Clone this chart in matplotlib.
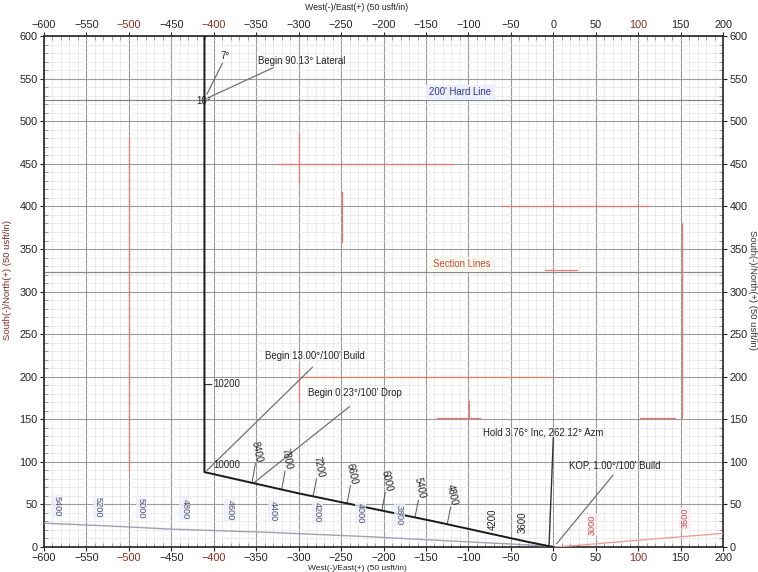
import matplotlib
matplotlib.use('Agg')
import matplotlib.pyplot as plt
import numpy as np

plt.rcParams['font.family'] = ['Liberation Sans', 'DejaVu Sans']

# ---------------- data ----------------
# main wellpath (East, North) in usft
well_e = [0, -3, -10, -30, -140, -300, -411, -411, -411]
well_n = [0, 0.5, 2, 6, 30, 63, 88, 400, 620]

# offset well to the west
off_e = [0, -100, -215, -330, -450, -530, -600]
off_n = [1, 6, 12, 17, 21, 25, 28]

# offset well to the east
east_e = [0, 30, 100, 150, 200]
east_n = [0, 2, 8, 12, 16]

# MD labels along main wellpath
md_text = ['8400', '7800', '7200', '6600', '6000', '5400', '4800']
md_e = [-349, -314, -277, -237, -196, -157, -119]
md_n = [112, 103, 94, 86, 78, 69, 61]
md2_text = ['4200', '3600']
md2_e = [-71, -36]
md2_n = [33, 29]

# MD labels along west offset well
off_text = ['5400', '5200', '5000', '4800', '4600', '4400', '4200', '4000', '3800']
off_lab_e = [-585, -536, -485, -434, -381, -330, -278, -227, -181]
off_lab_n = [48, 47, 46, 45, 43, 42, 41, 40, 38]

# MD labels along east offset well
east_text = ['3000', '3500']
east_lab_e = [46, 155]
east_lab_n = [26, 34]

# section lines (x0, x1, y0, y1)
sec_x0 = [-500, -324, -300, -249, -61, -10, 151, -298, -300, -137, 102, -99]
sec_x1 = [-500, -118, -300, -249, 111, 28, 151, -2, -300, -86, 143, -99]
sec_y0 = [90, 450, 427, 358, 400, 325, 151, 200, 170, 151, 151, 151]
sec_y1 = [480, 450, 485, 417, 400, 325, 380, 200, 210, 151, 151, 172]

# hard lines
hard_y = [525, 323]

x_ticks = list(range(-600, 201, 50))
y_ticks = list(range(0, 601, 50))

# ---------------- figure ----------------
fig = plt.figure(figsize=(7.58, 5.72), dpi=100)
ax = fig.add_axes([0.058, 0.0437, 0.896, 0.893])
ax.set_xlim(-600, 200)
ax.set_ylim(0, 600)

ax.set_xticks(x_ticks)
ax.set_yticks(y_ticks)
ax.set_xticks(range(-600, 201, 10), minor=True)
ax.set_yticks(range(0, 601, 10), minor=True)
ax.grid(which='major', color='#9a9a9a', lw=0.8)
ax.grid(which='minor', color='#e4e4e4', lw=0.5)
ax.set_axisbelow(True)

ax.tick_params(which='major', labeltop=True, labelright=True, top=True, right=True,
               direction='out', length=3, labelsize=7.8, pad=1.5, colors='#222222')
ax.tick_params(which='minor', top=True, right=True, direction='in', length=3,
               color='#777777', width=0.5)
for sp in ax.spines.values():
    sp.set_linewidth(1.3)
    sp.set_color('#333333')

# dark red accents on some tick labels
for t in ax.get_xticklabels():
    if t.get_text() in ('\u2212500', '-500', '100', '\u2212400', '-400'):
        t.set_color('#8b2b1f')

# hard lines
for hy in hard_y:
    ax.axhline(hy, color='#8a8a8a', lw=0.9, zorder=1)

# section lines
for x0, x1, y0, y1 in zip(sec_x0, sec_x1, sec_y0, sec_y1):
    ax.plot([x0, x1], [y0, y1], color='#e57a72', lw=0.9, zorder=2)

# wells
ax.plot(off_e, off_n, color='#a0a0b8', lw=1.0, zorder=3)
ax.plot(east_e, east_n, color='#e8a0a0', lw=1.0, zorder=3)
ax.plot(well_e, well_n, color='#1a1a1a', lw=1.4, zorder=5)

# MD labels on main well
for t, x, y in zip(md_text, md_e, md_n):
    px = x - 6
    py = np.interp(px, well_e[::-1][2:], well_n[::-1][2:])
    ax.plot([px, x - 2], [py, y - 14], color='#555555', lw=0.7, zorder=4)
    ax.text(x, y, t, rotation=-78, ha='center', va='center', fontsize=6.9,
            color='#222222', zorder=6)
for t, x, y in zip(md2_text, md2_e, md2_n):
    ax.text(x, y, t, rotation=90, ha='center', va='center', fontsize=6.9,
            color='#222222', zorder=6)

# MD labels on offset wells
for t, x, y in zip(off_text, off_lab_e, off_lab_n):
    ax.text(x, y, t, rotation=-90, ha='center', va='center', fontsize=6.6,
            color='#555570', zorder=6,
            bbox=dict(fc='#eeeefa', ec='none', pad=0.8, alpha=0.8))
for t, x, y in zip(east_text, east_lab_e, east_lab_n):
    ax.text(x, y, t, rotation=90, ha='center', va='center', fontsize=6.6,
            color='#c05050', zorder=6,
            bbox=dict(fc='#fbeef0', ec='none', pad=0.8, alpha=0.8))

# annotations
ann_kw = dict(fontsize=6.9, color='#222222', zorder=7)
lead_kw = dict(color='#707070', lw=0.9, zorder=4)

ax.text(-348, 571, 'Begin 90.13° Lateral', ha='left', va='center', **ann_kw)
ax.plot([-330, -406], [563, 528], **lead_kw)
ax.text(-386, 577, '7°', ha='center', va='center', **ann_kw)
ax.plot([-390, -408], [568, 532], **lead_kw)
ax.text(-412, 524, '10°', ha='center', va='center', **ann_kw)

ax.text(-340, 224, 'Begin 13.00°/100\' Build', ha='left', va='center', **ann_kw)
ax.plot([-284, -408], [211, 90], **lead_kw)
ax.text(-289, 181, 'Begin 0.23°/100\' Drop', ha='left', va='center', **ann_kw)
ax.plot([-240, -352], [165, 76], **lead_kw)

ax.text(-401, 191, '10200', ha='left', va='center', **ann_kw)
ax.plot([-411, -403], [191, 191], color='#333333', lw=0.8)
ax.text(-401, 96, '10000', ha='left', va='center', **ann_kw)

ax.text(-83, 135, 'Hold 3.76° Inc, 262.12° Azm', ha='left', va='center', **ann_kw)
ax.plot([0, -5], [128, 3], color='#333333', lw=1.0, zorder=4)
ax.text(19, 96, 'KOP, 1.00°/100\' Build', ha='left', va='center', **ann_kw)
ax.plot([70, 4], [84, 4], **lead_kw)

ax.text(-110, 534, "200' Hard Line", ha='center', va='center', fontsize=6.9,
        color='#2e3a8c', zorder=7,
        bbox=dict(fc='#eeeefb', ec='none', pad=2))
ax.text(-108, 332, 'Section Lines', ha='center', va='center', fontsize=6.9,
        color='#d04a40', zorder=7,
        bbox=dict(fc='#f6f8ec', ec='none', pad=2))

# axis titles
fig.text(357 / 758, 1 - 7 / 572, 'West(-)/East(+) (50 usft/in)', ha='center',
         va='center', fontsize=6.3, color='#222222')
fig.text(357 / 758, 1 - 568.5 / 572, 'West(-)/East(+) (50 usft/in)', ha='center',
         va='center', fontsize=6.0, color='#222222')
fig.text(8 / 758, 1 - 280 / 572, 'South(-)/North(+) (50 usft/in)', ha='center',
         va='center', fontsize=6.8, rotation=90, color='#7a2a22')
fig.text(752 / 758, 1 - 290 / 572, 'South(-)/North(+) (50 usft/in)', ha='center',
         va='center', fontsize=6.8, rotation=-90, color='#333333')

fig.savefig('out.png', dpi=100)
